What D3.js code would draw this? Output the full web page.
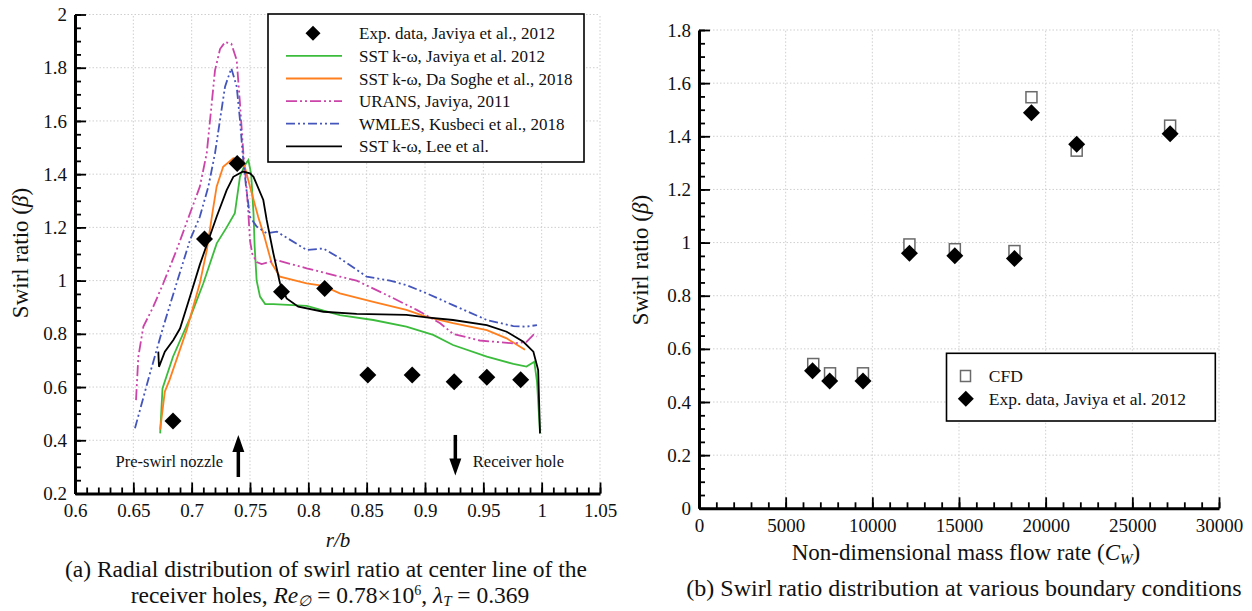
<!DOCTYPE html>
<html>
<head>
<meta charset="utf-8">
<script src="https://cdn.jsdelivr.net/npm/d3@7"></script>
<style>
  body { margin: 0; background: #fff; }
  text { font-family: 'Liberation Serif', 'Times New Roman', serif; fill: #111; }
</style>
</head>
<body>
<div id="chart"></div>
<script>
// ---- data, panel (a): radial distribution ----
var expR = [0.684, 0.711, 0.739, 0.777, 0.814, 0.851, 0.889, 0.925, 0.953, 0.982];
var expB = [0.472, 1.156, 1.44, 0.958, 0.97, 0.645, 0.645, 0.62, 0.637, 0.627];

var sstJaviya = [[0.673,0.426],[0.675,0.595],[0.684,0.714],[0.699,0.864],[0.710,0.99],[0.7215,1.14],[0.730,1.20],
  [0.737,1.253],[0.7386,1.303],[0.7414,1.39],[0.745,1.43],[0.7486,1.453],[0.751,1.40],[0.753,1.253],[0.754,1.127],
  [0.7557,1.0],[0.7586,0.94],[0.763,0.912],[0.770,0.912],[0.7986,0.905],[0.827,0.87],[0.8557,0.852],[0.884,0.827],
  [0.907,0.796],[0.924,0.758],[0.953,0.714],[0.9757,0.687],[0.987,0.677],[0.9937,0.695],[0.996,0.62],[0.9986,0.426]];

var sstDaSoghe = [[0.673,0.44],[0.677,0.583],[0.681,0.626],[0.6957,0.814],[0.707,0.99],[0.713,1.115],[0.718,1.26],
  [0.7214,1.353],[0.727,1.428],[0.7357,1.46],[0.744,1.453],[0.75,1.353],[0.757,1.24],[0.762,1.17],[0.7686,1.065],
  [0.7757,1.015],[0.7986,0.99],[0.8128,0.98],[0.827,0.952],[0.8557,0.92],[0.884,0.89],[0.9014,0.864],[0.924,0.84],
  [0.953,0.814],[0.970,0.783],[0.9857,0.74]];

var urans = [[0.6523,0.551],[0.6543,0.714],[0.6586,0.827],[0.6671,0.902],[0.6757,0.99],[0.6871,1.115],[0.6986,1.253],
  [0.707,1.353],[0.7129,1.478],[0.7157,1.60],[0.72,1.79],[0.7243,1.87],[0.7286,1.896],[0.734,1.89],[0.7386,1.829],
  [0.7414,1.666],[0.7443,1.478],[0.747,1.353],[0.7486,1.253],[0.75,1.15],[0.752,1.10],[0.7557,1.07],[0.76,1.062],
  [0.7729,1.077],[0.7986,1.046],[0.827,1.015],[0.8414,1.0],[0.87,0.94],[0.8929,0.89],[0.913,0.84],[0.924,0.80],
  [0.947,0.775],[0.9757,0.764],[0.987,0.77],[0.9929,0.796],[0.996,0.79]];

var wmles = [[0.6514,0.445],[0.6643,0.652],[0.6757,0.827],[0.6871,0.99],[0.6986,1.153],[0.707,1.24],[0.7143,1.353],
  [0.72,1.478],[0.7243,1.604],[0.7286,1.729],[0.734,1.798],[0.7386,1.729],[0.7414,1.604],[0.7437,1.478],[0.7466,1.353],
  [0.75,1.24],[0.7557,1.203],[0.7643,1.178],[0.773,1.184],[0.7986,1.115],[0.8129,1.121],[0.827,1.084],[0.85,1.015],
  [0.87,1.0],[0.884,0.983],[0.9,0.955],[0.924,0.908],[0.953,0.852],[0.9757,0.829],[0.987,0.827],[0.996,0.833]];

var sstLee = [[0.6714,0.733],[0.672,0.676],[0.677,0.733],[0.6843,0.777],[0.69,0.82],[0.6986,0.94],[0.707,1.06],
  [0.7214,1.24],[0.73,1.34],[0.7357,1.39],[0.744,1.41],[0.75,1.403],[0.753,1.39],[0.7614,1.303],[0.7643,1.228],
  [0.77,1.103],[0.7757,0.99],[0.7814,0.933],[0.7914,0.902],[0.8129,0.883],[0.8414,0.875],[0.884,0.871],[0.9014,0.862],
  [0.924,0.852],[0.953,0.833],[0.97,0.808],[0.9843,0.77],[0.9929,0.733],[0.997,0.664],[0.9986,0.426]];

var legendA = ["Exp. data, Javiya et al., 2012", "SST k-\u03c9, Javiya et al. 2012", "SST k-\u03c9, Da Soghe et al., 2018",
  "URANS, Javiya, 2011", "WMLES, Kusbeci et al., 2018", "SST k-\u03c9, Lee et al."];

var ticksAx = [0.6, 0.65, 0.7, 0.75, 0.8, 0.85, 0.9, 0.95, 1, 1.05];
var ticksAy = [0.2, 0.4, 0.6, 0.8, 1, 1.2, 1.4, 1.6, 1.8, 2];

// ---- data, panel (b): swirl ratio vs C_W ----
var cwCfd = [6590, 7560, 9460, 12140, 14760, 18200, 19180, 21790, 27180];
var betaCfd = [0.543, 0.508, 0.508, 0.993, 0.975, 0.968, 1.547, 1.346, 1.44];
var cwExp = [6550, 7540, 9460, 12140, 14760, 18200, 19180, 21790, 27180];
var betaExp = [0.518, 0.479, 0.479, 0.96, 0.95, 0.94, 1.489, 1.37, 1.41];
var legendB = ["CFD", "Exp. data, Javiya et al. 2012"];

var ticksBx = [0, 5000, 10000, 15000, 20000, 25000, 30000];
var ticksBy = [0, 0.2, 0.4, 0.6, 0.8, 1, 1.2, 1.4, 1.6, 1.8];

var FONT = "'Liberation Serif', 'Times New Roman', serif";

var svg = d3.select("#chart").append("svg")
    .attr("width", 1252).attr("height", 611)
    .style("background", "#fff");

// draw one set of axes with inward major/minor ticks and dotted grid
function drawAxes(x, y, xt, yt, xMinorStep, yMinorStep) {
    var g = svg.append("g");
    var x0 = x.range()[0], x1 = x.range()[1];
    var y0 = y.range()[0], y1 = y.range()[1];

    // grid
    g.selectAll(".gx").data(xt.slice(1)).enter().append("line")
        .attr("x1", d => x(d)).attr("x2", d => x(d)).attr("y1", y0).attr("y2", y1)
        .style("stroke", "#cfcfcf").style("stroke-dasharray", "1.5,2").style("stroke-width", 1);
    g.selectAll(".gy").data(yt.slice(1)).enter().append("line")
        .attr("x1", x0).attr("x2", x1).attr("y1", d => y(d)).attr("y2", d => y(d))
        .style("stroke", "#cfcfcf").style("stroke-dasharray", "1.5,2").style("stroke-width", 1);

    var xd = x.domain(), yd = y.domain();
    var xMinor = d3.range(Math.round((xd[1] - xd[0]) / xMinorStep) + 1).map(i => xd[0] + i * xMinorStep);
    var yMinor = d3.range(Math.round((yd[1] - yd[0]) / yMinorStep) + 1).map(i => yd[0] + i * yMinorStep);

    // minor ticks
    g.append("g").attr("transform", "translate(0," + y0 + ")")
        .call(d3.axisBottom(x).tickValues(xMinor).tickFormat("").tickSizeInner(-6).tickSizeOuter(0))
        .call(a => a.select(".domain").remove());
    g.append("g").attr("transform", "translate(" + x0 + ",0)")
        .call(d3.axisLeft(y).tickValues(yMinor).tickFormat("").tickSizeInner(-6).tickSizeOuter(0))
        .call(a => a.select(".domain").remove());

    // major ticks + labels
    var ax = g.append("g").attr("transform", "translate(0," + y0 + ")")
        .call(d3.axisBottom(x).tickValues(xt).tickFormat(d => String(d)).tickSizeInner(-11).tickSizeOuter(0).tickPadding(10));
    var ay = g.append("g").attr("transform", "translate(" + x0 + ",0)")
        .call(d3.axisLeft(y).tickValues(yt).tickFormat(d => String(d)).tickSizeInner(-11).tickSizeOuter(0).tickPadding(8));

    [ax, ay].forEach(function(a) {
        a.select(".domain").style("stroke", "#000").style("stroke-width", 3);
        a.selectAll("text").style("font-family", FONT).style("font-size", "19px").style("fill", "#111");
    });
    g.selectAll(".tick line").style("stroke", "#000").style("stroke-width", 1.8);
    return g;
}

function diamond(sel, cx, cy, r) {
    sel.append("path")
        .attr("d", "M" + cx + "," + (cy - r) + "L" + (cx + r) + "," + cy + "L" + cx + "," + (cy + r) + "L" + (cx - r) + "," + cy + "Z")
        .style("fill", "#000");
}

function betaLabel(t) {
    t.append("tspan").text("Swirl ratio (");
    t.append("tspan").style("font-style", "italic").text("\u03b2");
    t.append("tspan").text(")");
}

// ================= panel (a) =================
var xA = d3.scaleLinear().domain([0.6, 1.05]).range([75, 600]);
var yA = d3.scaleLinear().domain([0.2, 2]).range([493.5, 14.5]);
drawAxes(xA, yA, ticksAx, ticksAy, 0.01, 0.05);

var lineA = d3.line().x(d => xA(d[0])).y(d => yA(d[1]));
var seriesA = [
    {data: sstJaviya, color: "#3cbc3c", dash: null},
    {data: sstDaSoghe, color: "#ff7f1e", dash: null},
    {data: urans, color: "#cc44aa", dash: "11,3,2,3,2,3"},
    {data: wmles, color: "#4455bb", dash: "9,3,2,3,2,3"},
    {data: sstLee, color: "#000", dash: null}
];
var plotA = svg.append("g");
seriesA.forEach(function(s) {
    plotA.append("path").datum(s.data).attr("d", lineA)
        .style("fill", "none").style("stroke", s.color).style("stroke-width", 1.8)
        .style("stroke-dasharray", s.dash);
});
expR.forEach(function(r, i) { diamond(plotA, xA(r), yA(expB[i]), 8.5); });

// arrows + annotations
function arrow(x, yTail, yTip) {
    var dir = yTip < yTail ? 1 : -1;
    plotA.append("line").attr("x1", x).attr("x2", x).attr("y1", yTail).attr("y2", yTip + dir * 12)
        .style("stroke", "#000").style("stroke-width", 3.5);
    plotA.append("path")
        .attr("d", "M" + x + "," + yTip + "L" + (x + 6) + "," + (yTip + dir * 17) + "L" + (x - 6) + "," + (yTip + dir * 17) + "Z")
        .style("fill", "#000");
}
arrow(xA(0.74), yA(0.262), yA(0.42));
arrow(xA(0.926), yA(0.42), yA(0.268));
plotA.append("text").attr("x", xA(0.727)).attr("y", yA(0.30)).attr("text-anchor", "end")
    .style("font-size", "16.5px").text("Pre-swirl nozzle");
plotA.append("text").attr("x", xA(0.941)).attr("y", yA(0.30))
    .style("font-size", "16.5px").text("Receiver hole");

// legend (a)
var legA = svg.append("g");
legA.append("rect").attr("x", 268).attr("y", 14).attr("width", 316).attr("height", 148)
    .style("fill", "#fff").style("stroke", "#000").style("stroke-width", 1.6);
legendA.forEach(function(t, i) {
    var ly = 33.3 + i * 22.6;
    if (i == 0) {
        diamond(legA, 313, ly, 7.5);
    } else {
        var s = seriesA[i - 1];
        legA.append("line").attr("x1", 286).attr("x2", 342).attr("y1", ly).attr("y2", ly)
            .style("stroke", s.color).style("stroke-width", 1.8).style("stroke-dasharray", s.dash);
    }
    legA.append("text").attr("x", 359).attr("y", ly + 6).style("font-size", "17px").text(t);
});

// axis titles (a)
svg.append("text").attr("transform", "translate(28,253) rotate(-90)").attr("text-anchor", "middle")
    .style("font-size", "23px").call(betaLabel);
svg.append("text").attr("x", 338).attr("y", 547).attr("text-anchor", "middle")
    .style("font-size", "21px").style("font-style", "italic").text("r/b");
svg.append("text").attr("x", 326).attr("y", 577).attr("text-anchor", "middle")
    .style("font-size", "23.5px").text("(a) Radial distribution of swirl ratio at center line of the");
svg.append("text").attr("x", 330).attr("y", 603).attr("text-anchor", "middle")
    .style("font-size", "23.5px")
    .call(function(t) {
        t.append("tspan").text("receiver holes, ");
        t.append("tspan").style("font-style", "italic").text("Re");
        t.append("tspan").attr("dy", 3).style("font-size", "15px").style("font-style", "italic").text("\u2205");
        t.append("tspan").attr("dy", -3).text(" = 0.78\u00d710");
        t.append("tspan").attr("dy", -8).style("font-size", "14px").text("6");
        t.append("tspan").attr("dy", 8).text(", ");
        t.append("tspan").style("font-style", "italic").text("\u03bb");
        t.append("tspan").attr("dy", 3).style("font-size", "15px").style("font-style", "italic").text("T");
        t.append("tspan").attr("dy", -3).text(" = 0.369");
    });

// ================= panel (b) =================
var xB = d3.scaleLinear().domain([0, 30000]).range([699, 1219]);
var yB = d3.scaleLinear().domain([0, 1.8]).range([508.3, 30]);
drawAxes(xB, yB, ticksBx, ticksBy, 1000, 0.05);

var plotB = svg.append("g");
cwCfd.forEach(function(c, i) {
    plotB.append("rect").attr("x", xB(c) - 5.5).attr("y", yB(betaCfd[i]) - 5.5).attr("width", 11).attr("height", 11)
        .style("fill", "#fff").style("stroke", "#6a6a6a").style("stroke-width", 1.5);
});
cwExp.forEach(function(c, i) { diamond(plotB, xB(c), yB(betaExp[i]), 8.5); });

// legend (b)
var legB = svg.append("g");
legB.append("rect").attr("x", 946.5).attr("y", 353.3).attr("width", 268.8).attr("height", 67.7)
    .style("fill", "#fff").style("stroke", "#000").style("stroke-width", 1.6);
legB.append("rect").attr("x", 960.5).attr("y", 370.5).attr("width", 10).attr("height", 11)
    .style("fill", "#fff").style("stroke", "#6a6a6a").style("stroke-width", 1.5);
diamond(legB, 965.8, 398.7, 8);
legendB.forEach(function(t, i) {
    legB.append("text").attr("x", 988.8).attr("y", 376 + i * 22.7 + 6).style("font-size", "17.5px").text(t);
});

svg.append("text").attr("transform", "translate(648,260) rotate(-90)").attr("text-anchor", "middle")
    .style("font-size", "23px").call(betaLabel);
svg.append("text").attr("x", 966).attr("y", 560).attr("text-anchor", "middle")
    .style("font-size", "23px")
    .call(function(t) {
        t.append("tspan").text("Non-dimensional mass flow rate (");
        t.append("tspan").style("font-style", "italic").text("C");
        t.append("tspan").attr("dy", 4).style("font-size", "15px").style("font-style", "italic").text("W");
        t.append("tspan").attr("dy", -4).text(")");
    });
svg.append("text").attr("x", 964).attr("y", 596).attr("text-anchor", "middle")
    .style("font-size", "24px").text("(b) Swirl ratio distribution at various boundary conditions");
</script>
</body>
</html>
